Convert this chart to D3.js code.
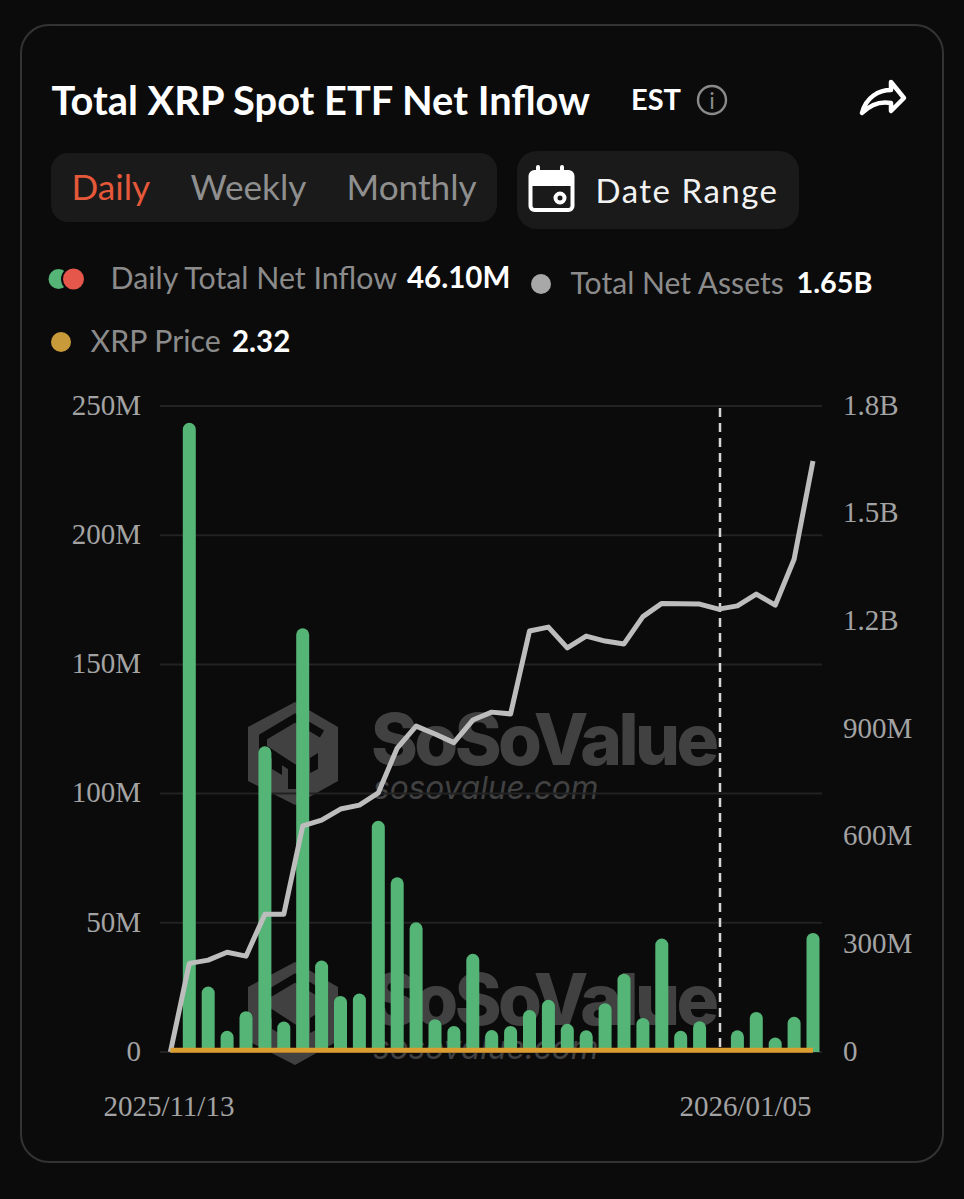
<!DOCTYPE html>
<html>
<head>
<meta charset="utf-8">
<script src="https://cdn.jsdelivr.net/npm/d3@7"></script>
<style>
  html, body { margin: 0; background: #0b0b0c; }
  svg { display: block; }
  .ui { font-family: Lato, sans-serif; }
  .axis text { font-family: "Liberation Serif", serif; font-size: 29px; fill: #a3a3a3; }
  .axis path, .axis line { display: none; }
</style>
</head>
<body>
<div class="chart"></div>
<script>
"use strict";

const dates = [
  "2025/11/13", "2025/11/14", "2025/11/17", "2025/11/18", "2025/11/19", "2025/11/20", "2025/11/21",
  "2025/11/24", "2025/11/25", "2025/11/26", "2025/11/28", "2025/12/01", "2025/12/02", "2025/12/03",
  "2025/12/04", "2025/12/05", "2025/12/08", "2025/12/09", "2025/12/10", "2025/12/11", "2025/12/12",
  "2025/12/15", "2025/12/16", "2025/12/17", "2025/12/18", "2025/12/19", "2025/12/22", "2025/12/23",
  "2025/12/24", "2025/12/26", "2025/12/29", "2025/12/30", "2025/12/31", "2026/01/02", "2026/01/05"
];
// millions of USD
const netInflow = [
  0, 243.5, 25.3, 8.2, 15.8, 118.3, 11.8,
  164, 35.4, 21.7, 22.6, 89.5, 67.6, 50.2,
  12.7, 10.1, 38, 8.5, 10.1, 16.3, 20.2,
  10.9, 8.4, 18.9, 30.3, 13.2, 43.9, 8.2,
  11.9, 0, 8.4, 15.5, 5.6, 13.6, 46.1
];
const netAssets = [
  0, 247, 256, 278, 267, 384, 384,
  630, 646, 677, 688, 722, 847, 908,
  886, 862, 925, 947, 942, 1173, 1184,
  1126, 1159, 1145, 1137, 1213, 1250, 1249,
  1248, 1234, 1243, 1276, 1245, 1373, 1647
];
// drawn on the assets axis, so it stays flat on the floor of the chart
const xrpPrice = [
  2.32, 2.32, 2.32, 2.32, 2.32, 2.32, 2.32,
  2.32, 2.32, 2.32, 2.32, 2.32, 2.32, 2.32,
  2.32, 2.32, 2.32, 2.32, 2.32, 2.32, 2.32,
  2.32, 2.32, 2.32, 2.32, 2.32, 2.32, 2.32,
  2.32, 2.32, 2.32, 2.32, 2.32, 2.32, 2.32
];
const inflowTicks = [0, 50, 100, 150, 200, 250];
const assetTicks = [0, 300, 600, 900, 1200, 1500, 1800];
const dateTicks = ["2025/11/13", "2026/01/05"];
const markerDate = "2025/12/26";

const config = {
  width: 964, height: 1199,
  left: 170.4, right: 813, top: 406, bottom: 1052,
  barWidth: 13
};

const svg = d3.select(".chart").append("svg")
  .attr("width", config.width)
  .attr("height", config.height);

draw_card();
draw_watermark(0);
draw_watermark(260);
draw_chart();

function add_text(x, y, str, size, fill, weight, spacing) {
  return svg.append("text")
    .attr("class", "ui")
    .attr("x", x).attr("y", y)
    .attr("font-size", size)
    .attr("fill", fill)
    .attr("font-weight", weight || 400)
    .attr("letter-spacing", spacing || 0)
    .text(str);
}

function draw_card() {
  svg.append("rect")
    .attr("x", 21).attr("y", 25).attr("width", 922).attr("height", 1137).attr("rx", 28)
    .attr("fill", "#0b0b0c").attr("stroke", "#333335").attr("stroke-width", 2);

  add_text(51.5, 115, "Total XRP Spot ETF Net Inflow", 39.8, "#fff", 700);
  add_text(631, 110, "EST", 29, "#fff", 700);

  svg.append("circle").attr("cx", 712).attr("cy", 100).attr("r", 14)
    .attr("fill", "none").attr("stroke", "#8a8a8a").attr("stroke-width", 2.4);
  add_text(712, 109, "i", 23, "#8a8a8a").attr("text-anchor", "middle");

  // share arrow
  svg.append("path")
    .attr("d", "M862 113 C866 97 879 90 891 90 L891 82 L904 98 L891 111 L891 103 C880 101 870 105 862 113 Z")
    .attr("fill", "none").attr("stroke", "#fff").attr("stroke-width", 4.5).attr("stroke-linejoin", "round");

  // period switch
  svg.append("rect").attr("x", 51).attr("y", 153).attr("width", 446).attr("height", 69).attr("rx", 17).attr("fill", "#1a1a1b");
  add_text(71.5, 200, "Daily", 35.2, "#e5583a");
  add_text(190.5, 200, "Weekly", 35.2, "#8f8f8f");
  add_text(346.5, 200, "Monthly", 35.2, "#8f8f8f");

  // date range button
  svg.append("rect").attr("x", 517).attr("y", 151).attr("width", 282).attr("height", 78).attr("rx", 20).attr("fill", "#1a1a1b");
  svg.append("rect").attr("x", 530.5).attr("y", 172).attr("width", 42).attr("height", 38).attr("rx", 4)
    .attr("fill", "none").attr("stroke", "#fff").attr("stroke-width", 4);
  svg.append("rect").attr("x", 530).attr("y", 172).attr("width", 43).attr("height", 14).attr("rx", 3).attr("fill", "#fff");
  svg.append("path").attr("d", "M538 167 V178 M562 167 V178").attr("stroke", "#fff").attr("stroke-width", 4).attr("stroke-linecap", "round");
  svg.append("circle").attr("cx", 560).attr("cy", 198).attr("r", 4.5)
    .attr("fill", "#1a1a1b").attr("stroke", "#fff").attr("stroke-width", 4);
  add_text(595.5, 203, "Date Range", 33, "#f2f2f2", 400, 1.5);

  // legend
  svg.append("circle").attr("cx", 58.5).attr("cy", 279).attr("r", 10).attr("fill", "#54b576");
  svg.append("circle").attr("cx", 73.5).attr("cy", 279).attr("r", 11.5).attr("fill", "#e5574b")
    .attr("stroke", "#0b0b0c").attr("stroke-width", 2);
  add_text(110.5, 289, "Daily Total Net Inflow", 30.3, "#8b8b8b");
  add_text(407, 288, "46.10M", 29.5, "#fff", 700);

  svg.append("circle").attr("cx", 541).attr("cy", 284).attr("r", 10).attr("fill", "#a8a8a8");
  add_text(570.5, 294, "Total Net Assets", 30.1, "#8b8b8b");
  add_text(796.5, 293, "1.65B", 28.8, "#fff", 700);

  svg.append("circle").attr("cx", 61).attr("cy", 342).attr("r", 10).attr("fill", "#c89a3a");
  add_text(90.5, 352, "XRP Price", 30.3, "#8b8b8b");
  add_text(232, 352, "2.32", 29.5, "#fff", 700);
}

function draw_watermark(dy) {
  const g = svg.append("g").attr("transform", `translate(0,${dy})`).attr("class", "watermark");
  g.append("path")
    .attr("d", "M295 702 L338 727 L338 781 L295 805 L248 781 L248 727 Z")
    .attr("fill", "#414142");
  g.append("path")
    .attr("d", "M322 734 L295 718 L263 737 L263 748 L292 767 L292 789")
    .attr("fill", "none").attr("stroke", "#0b0b0c").attr("stroke-width", 8);
  g.append("path").attr("d", "M272 757 L282 763 L282 775 L272 769 Z").attr("fill", "#0b0b0c");
  g.append("path").attr("d", "M310 758 L318 753 L318 769 L310 773 Z").attr("fill", "#0b0b0c");
  g.append("text")
    .attr("x", 371).attr("y", 765)
    .attr("font-family", "Inter, sans-serif").attr("font-weight", 800)
    .attr("font-size", 71).attr("letter-spacing", -3.6).attr("fill", "#414142")
    .text("SoSoValue");
  g.append("text")
    .attr("x", 373).attr("y", 799)
    .attr("font-family", "Inter, sans-serif").attr("font-style", "italic")
    .attr("font-size", 31.6).attr("fill", "#414142")
    .text("sosovalue.com");
}

function draw_chart() {
  const x = d3.scalePoint().domain(dates).range([config.left, config.right]);
  const yLeft = d3.scaleLinear().domain([0, 250]).range([config.bottom, config.top]);
  const yRight = d3.scaleLinear().domain([0, 1800]).range([config.bottom, config.top]);

  const fmtLeft = (d) => d === 0 ? "0" : `${d}M`;
  const fmtRight = (d) => d === 0 ? "0" : d >= 1000 ? `${(d / 1000).toFixed(1)}B` : `${d}M`;

  svg.append("g").selectAll("line")
    .data(inflowTicks)
    .enter().append("line")
    .attr("x1", 160).attr("x2", 822)
    .attr("y1", (d) => yLeft(d)).attr("y2", (d) => yLeft(d))
    .attr("stroke", "#222223").attr("stroke-width", 2);

  svg.append("g").attr("class", "axis")
    .attr("transform", "translate(147,-1)")
    .call(d3.axisLeft(yLeft).tickValues(inflowTicks).tickFormat(fmtLeft).tickSize(0).tickPadding(6));

  svg.append("g").attr("class", "axis")
    .attr("transform", "translate(843,-1)")
    .call(d3.axisRight(yRight).tickValues(assetTicks).tickFormat(fmtRight).tickSize(0).tickPadding(0));

  const xAxis = svg.append("g").attr("class", "axis")
    .attr("transform", "translate(-2,1095)")
    .call(d3.axisBottom(x).tickValues(dateTicks).tickSize(0).tickPadding(0));
  xAxis.selectAll(".tick text")
    .attr("y", 0).attr("dy", "0.71em")
    .attr("text-anchor", (d, i) => i === 0 ? "middle" : "end");

  // rounded top, square foot; zero days get no bar
  const r = config.barWidth / 2;
  const barPath = (d) => {
    const cx = x(d.date);
    const top = yLeft(d.value);
    const base = yLeft(0);
    const rr = Math.min(r, base - top);
    return `M${cx - r},${base}V${top + rr}A${r},${rr} 0 0 1 ${cx + r},${top + rr}V${base}Z`;
  };
  const barData = dates
    .map((date, i) => ({ date: date, value: netInflow[i] }))
    .filter((d) => d.value > 0);
  svg.append("g").selectAll("path")
    .data(barData)
    .enter().append("path")
    .attr("d", barPath)
    .attr("fill", "#54b576");

  svg.append("line")
    .attr("x1", x(markerDate) + 1.5).attr("x2", x(markerDate) + 1.5)
    .attr("y1", 408).attr("y2", config.bottom)
    .attr("stroke", "#d6d6d8").attr("stroke-width", 2.5).attr("stroke-dasharray", "9 6");

  const line = d3.line().x((d, i) => x(dates[i]));

  svg.append("path")
    .attr("d", line.y((d) => yRight(d))(netAssets))
    .attr("fill", "none").attr("stroke", "#bdbdbd").attr("stroke-width", 5).attr("stroke-linejoin", "round");

  svg.append("path")
    .attr("d", line.y((d) => yRight(d) - 1)(xrpPrice))
    .attr("fill", "none").attr("stroke", "#dc9d30").attr("stroke-width", 5);
}
</script>
</body>
</html>
